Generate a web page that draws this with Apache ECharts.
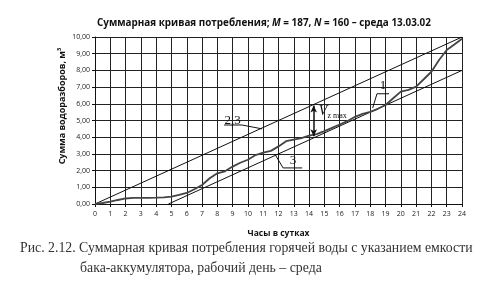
<!DOCTYPE html>
<html><head><meta charset="utf-8">
<script src="https://cdn.jsdelivr.net/npm/echarts@6/dist/echarts.min.js"></script>
<style>html,body{margin:0;padding:0;background:#fff}#c{width:480px;height:283px}</style>
</head><body><div id="c"></div>
<script>
// Hours in a day
const hours = [0,0.5,1,1.5,2,2.5,3,3.5,4,4.5,5,5.5,6,6.5,7,7.5,8,8.5,9,9.5,10,10.5,11,11.5,12,12.5,13,13.5,14,14.5,15,15.5,16,16.5,17,17.5,18,18.5,19,19.5,20,20.5,21,21.5,22,22.5,23,23.5,24];
// Curve 1: cumulative hot water consumption, m³
const curve1 = [0,0.06,0.14,0.24,0.33,0.37,0.37,0.37,0.38,0.40,0.44,0.54,0.66,0.88,1.14,1.54,1.84,1.96,2.24,2.47,2.65,2.93,3.07,3.18,3.45,3.76,3.86,3.95,4.1,4.18,4.36,4.56,4.76,4.96,5.22,5.4,5.52,5.7,5.93,6.33,6.73,6.83,7.03,7.47,7.92,8.62,9.22,9.55,9.9];
// Line 2,3: uniform supply line
const line23X = [0,24];
const line23Y = [0,10];
// Line 3: parallel supply line, shifted
const line3X = [4.8,24];
const line3Y = [0,8];
const xTicks = [0,24,1];
const yTicks = [0,10,1];

const chart = echarts.init(document.getElementById('c'));
const pair = (xs, ys) => xs.map((x,i)=>[x, ys[i]]);
const sans = 'Open Sans';
chart.setOption({
  animation:false,
  title:{
    text:'{b|Суммарная кривая потребления; }{i|M}{b| = 187, }{i|N}{b| = 160 – среда 13.03.02}',
    left:92, top:13,
    textStyle:{rich:{
      b:{fontFamily:sans,fontWeight:'bold',fontSize:9.9,color:'#111'},
      i:{fontFamily:sans,fontWeight:'bold',fontStyle:'italic',fontSize:9.9,color:'#111'}
    }}
  },
  grid:{left:95,right:18,top:37,bottom:79},
  xAxis:{type:'value',min:xTicks[0],max:xTicks[1],interval:xTicks[2],
    axisLine:{lineStyle:{color:'#111',width:1}},
    axisTick:{show:true,length:3,lineStyle:{color:'#111'}},
    axisLabel:{fontFamily:sans,fontSize:7,color:'#222',margin:6},
    splitLine:{show:true,lineStyle:{color:'#222',width:1}},
    name:'Часы в сутках',nameLocation:'middle',nameGap:25,
    nameTextStyle:{fontFamily:sans,fontWeight:'bold',fontSize:8.5,color:'#111'}
  },
  yAxis:{type:'value',min:yTicks[0],max:yTicks[1],interval:yTicks[2],
    axisLine:{show:true,lineStyle:{color:'#111',width:1}},
    axisTick:{show:true,length:3,lineStyle:{color:'#111'}},
    axisLabel:{fontFamily:sans,fontSize:7,color:'#222',margin:5,
      formatter:v=>v.toFixed(2).replace('.',',')},
    splitLine:{show:true,lineStyle:{color:'#222',width:1}}
  },
  series:[
    {type:'line',name:'2,3',data:pair(line23X,line23Y),symbol:'none',
      lineStyle:{color:'#111',width:1},
      markLine:{silent:true,symbol:['arrow','arrow'],symbolSize:[5,7],
        label:{show:false},lineStyle:{color:'#111',width:1.5,type:'solid'},
        data:[[{coord:[14.3,5.9]},{coord:[14.3,4.05]}]]}
    },
    {type:'line',name:'3',data:pair(line3X,line3Y),symbol:'none',lineStyle:{color:'#111',width:1}},
    {type:'line',name:'1',data:pair(hours,curve1),symbol:'none',lineStyle:{color:'#444',width:1.8}}
  ]
});

function px(x,y){return chart.convertToPixel({gridIndex:0},[x,y]);}
function poly(pts){return {type:'polyline',shape:{points:pts.map(p=>px(p[0],p[1]))},style:{stroke:'#111',lineWidth:1,fill:null}};}
function label(txt,x,y,size){const p=px(x,y);return {type:'text',x:p[0],y:p[1],style:{text:txt,fontFamily:'Liberation Serif',fontSize:size,fill:'#111',align:'center',verticalAlign:'middle'}};}
const vp = px(15.55,5.55);
chart.setOption({graphic:[
  poly([[8.44,4.73],[9.62,4.73],[10.92,4.5]]),
  label('2,3',9.0,5.02,13),
  poly([[11.77,2.98],[12.3,2.16],[13.55,2.16]]),
  label('3',12.95,2.62,13),
  poly([[18.16,5.75],[18.44,6.6],[19.23,6.6]]),
  label('1',18.84,7.12,13),
  {type:'text',x:vp[0],y:vp[1],style:{text:'{v|V}{s|z max}',align:'center',verticalAlign:'middle',
    rich:{v:{fontFamily:'Liberation Serif',fontStyle:'italic',fontSize:14,fill:'#111'},
          s:{fontFamily:'Liberation Serif',fontSize:8,fill:'#111',padding:[9,0,0,0]}}}},
  {type:'text',x:62,y:106,rotation:Math.PI/2,style:{text:'Сумма водоразборов, м³',fontFamily:sans,fontWeight:'bold',fontSize:9,fill:'#111',align:'center',verticalAlign:'middle'}},
  {type:'text',x:20,y:248,style:{text:'Рис. 2.12. Суммарная кривая потребления горячей воды с указанием емкости',fontFamily:'Liberation Serif',fontSize:13.8,fill:'#333',verticalAlign:'middle'}},
  {type:'text',x:80,y:268,style:{text:'бака-аккумулятора, рабочий день – среда',fontFamily:'Liberation Serif',fontSize:13.8,fill:'#333',verticalAlign:'middle'}}
]});
</script></body></html>
